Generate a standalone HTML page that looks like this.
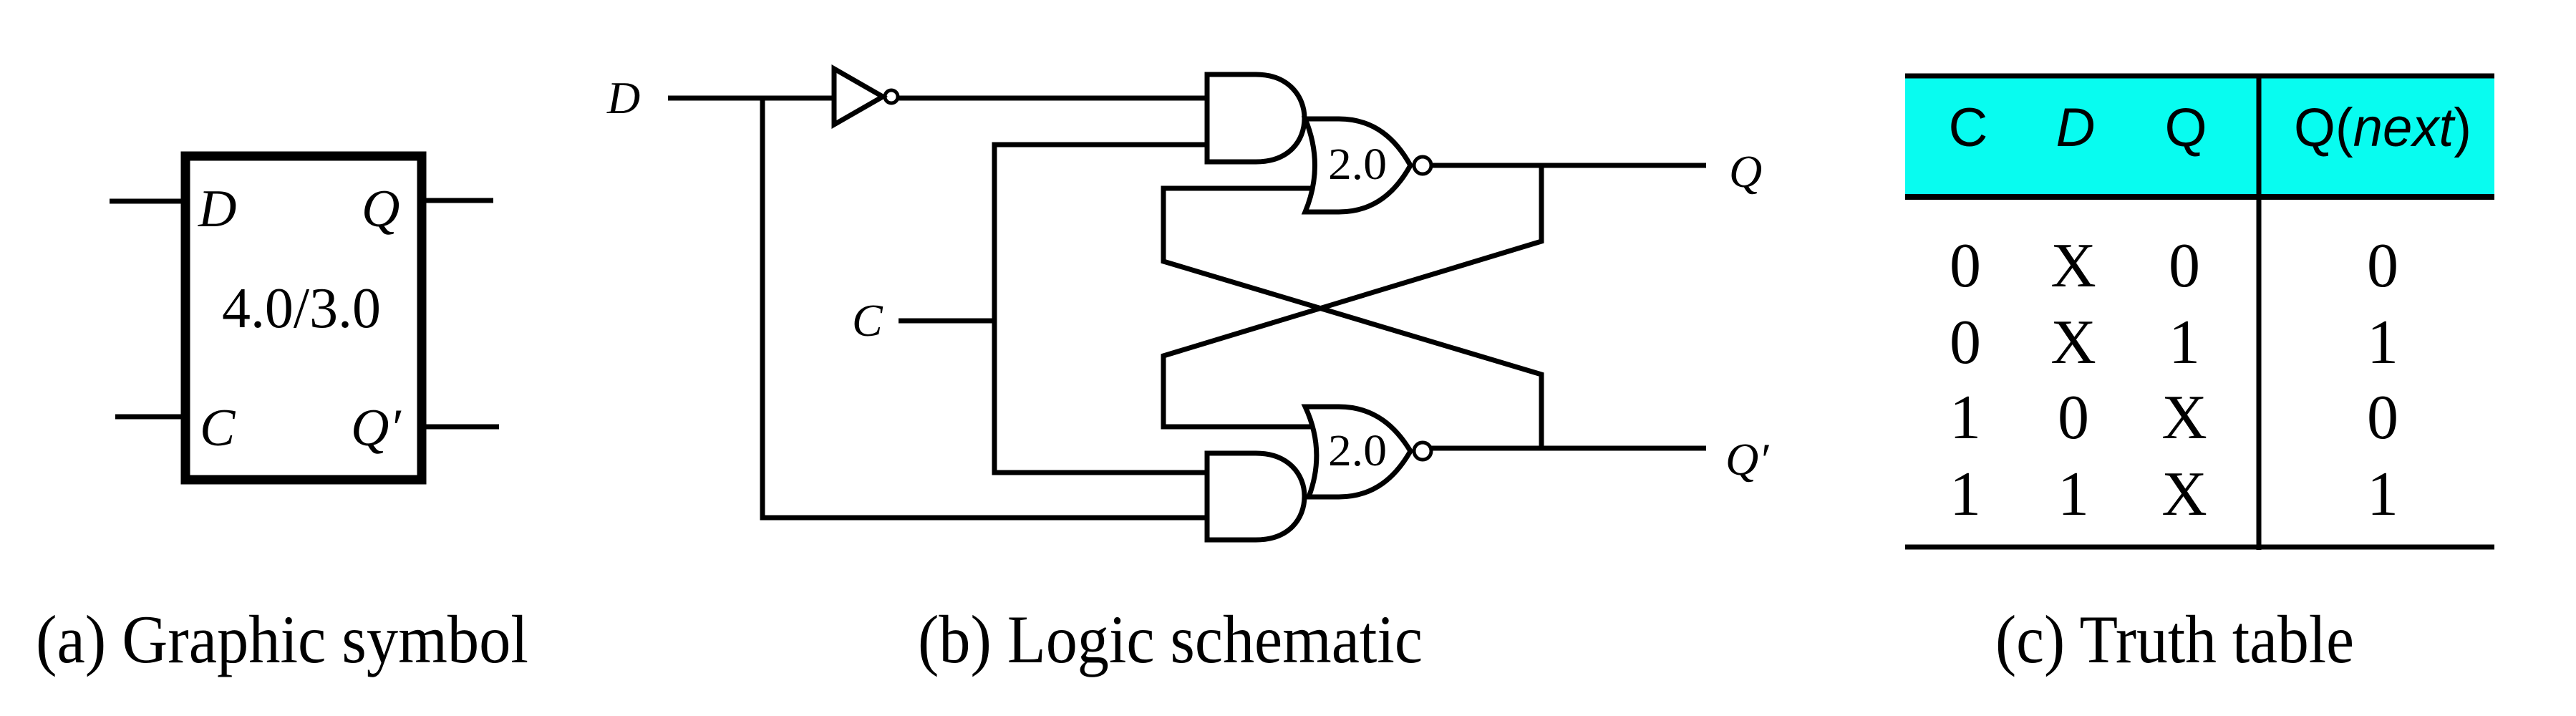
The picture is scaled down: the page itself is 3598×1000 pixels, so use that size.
<!DOCTYPE html>
<html><head><meta charset="utf-8"><style>html,body{margin:0;padding:0;background:#fff}svg{display:block}</style></head>
<body>
<svg width="3598" height="1000" viewBox="0 0 3598 1000" xmlns="http://www.w3.org/2000/svg">
<rect width="3598" height="1000" fill="#fff"/>
<g font-family="Liberation Serif, serif" fill="#000">
<!-- (a) -->
<rect x="259" y="218" width="330" height="452" fill="none" stroke="#000" stroke-width="13"/>
<g stroke="#000" stroke-width="7">
<line x1="153" y1="281" x2="253" y2="281"/>
<line x1="595" y1="280" x2="689" y2="280"/>
<line x1="161" y1="582" x2="253" y2="582"/>
<line x1="595" y1="596" x2="697" y2="596"/>
</g>
<text x="277" y="316" font-size="74" font-style="italic">D</text>
<text x="505" y="316" font-size="74" font-style="italic">Q</text>
<text x="279" y="622" font-size="74" font-style="italic">C</text>
<text x="490" y="622" font-size="74" font-style="italic">Q′</text>
<text x="310" y="457" font-size="80" textLength="222" lengthAdjust="spacingAndGlyphs">4.0/3.0</text>
<text x="50" y="925" font-size="95" textLength="688" lengthAdjust="spacingAndGlyphs">(a) Graphic symbol</text>

<!-- (b) -->
<g stroke="#000" stroke-width="7" fill="none" stroke-linejoin="miter">
<polyline points="933,137 1165,137"/>
<polyline points="1065,137 1065,723 1683,723"/>
<polygon points="1165,96 1165,174 1233,135"/>
<circle cx="1245" cy="135" r="9" stroke-width="5"/>
<line x1="1254" y1="137" x2="1683" y2="137"/>
<polyline points="1683,202 1389,202 1389,660 1683,660"/>
<line x1="1255" y1="448" x2="1389" y2="448"/>
<!-- top AND -->
<path d="M1686,104 L1754,104 C1800,104 1822,135 1822,165 C1822,197 1800,226 1754,226 L1686,226 Z"/>
<!-- bottom AND -->
<path d="M1686,633 L1754,633 C1800,633 1822,663 1822,693 C1822,725 1800,754 1754,754 L1686,754 Z"/>
<!-- top NAND -->
<path d="M1823,166 L1870,166 C1920,166 1950,195 1970,231 C1950,267 1920,296 1870,296 L1823,296 Q1850,231 1823,166 Z"/>
<circle cx="1987" cy="231" r="12" stroke-width="5"/>
<line x1="1999" y1="231" x2="2383" y2="231"/>
<!-- bottom NAND -->
<path d="M1823,568 L1870,568 C1920,568 1950,597 1970,630 C1950,665 1920,694 1870,694 L1828,694 Q1852,630 1823,568 Z"/>
<circle cx="1987" cy="630" r="12" stroke-width="5"/>
<line x1="1999" y1="626" x2="2383" y2="626"/>
<!-- cross -->
<polyline points="1833,263 1625,263 1625,365 2153,523 2153,626"/>
<polyline points="1833,596 1625,596 1625,497 2153,337 2153,231"/>
</g>
<line x1="1625" y1="365" x2="2153" y2="523" stroke="#000" stroke-width="3"/>
<text x="848" y="158" font-size="64" font-style="italic">D</text>
<text x="1190" y="469" font-size="64" font-style="italic">C</text>
<text x="2415" y="261" font-size="64" font-style="italic">Q</text>
<text x="2410" y="663" font-size="64" font-style="italic">Q′</text>
<text x="1855" y="250" font-size="62" textLength="82" lengthAdjust="spacingAndGlyphs">2.0</text>
<text x="1855" y="650" font-size="62" textLength="82" lengthAdjust="spacingAndGlyphs">2.0</text>
<text x="1282" y="925" font-size="95" textLength="705" lengthAdjust="spacingAndGlyphs">(b) Logic schematic</text>

<!-- (c) -->
<rect x="2661" y="106" width="823" height="165" fill="#08fcf0"/>
<g stroke="#000" fill="none">
<line x1="2661" y1="106" x2="3484" y2="106" stroke-width="7"/>
<line x1="2661" y1="275" x2="3484" y2="275" stroke-width="8"/>
<line x1="3155" y1="104" x2="3155" y2="768" stroke-width="7"/>
<line x1="2661" y1="764" x2="3484" y2="764" stroke-width="7"/>
</g>
<g font-family="Liberation Sans, sans-serif" font-size="76" text-anchor="middle">
<text x="2749" y="204">C</text>
<text x="2899" y="204" font-style="italic">D</text>
<text x="3053" y="204">Q</text>
<text x="3328" y="204" textLength="248" lengthAdjust="spacingAndGlyphs">Q(<tspan font-style="italic">next</tspan>)</text>
</g>
<g font-size="88" text-anchor="middle">
<text x="2745" y="400">0</text><text x="2896" y="400">X</text><text x="3051" y="400">0</text><text x="3328" y="400">0</text>
<text x="2745" y="507">0</text><text x="2896" y="507">X</text><text x="3051" y="507">1</text><text x="3328" y="507">1</text>
<text x="2745" y="612">1</text><text x="2896" y="612">0</text><text x="3051" y="612">X</text><text x="3328" y="612">0</text>
<text x="2745" y="719">1</text><text x="2896" y="719">1</text><text x="3051" y="719">X</text><text x="3328" y="719">1</text>
</g>
<text x="2787" y="925" font-size="95" textLength="501" lengthAdjust="spacingAndGlyphs">(c) Truth table</text>
</g>
</svg>
</body></html>
